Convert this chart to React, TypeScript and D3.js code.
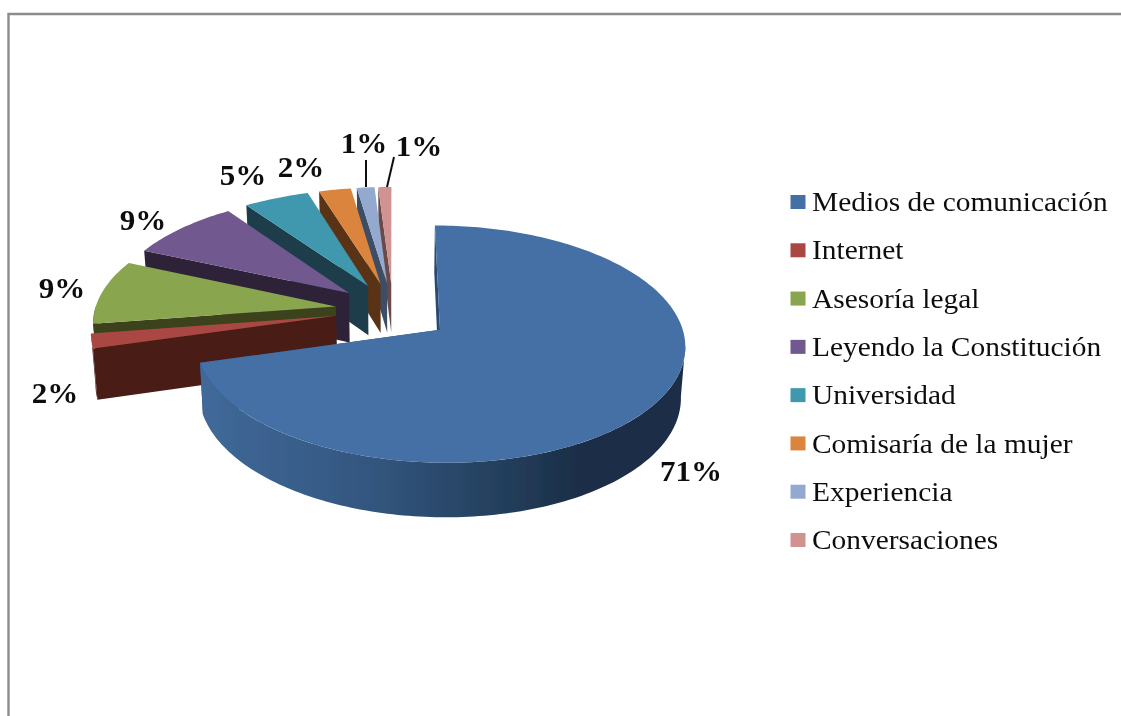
import React from "react";
import * as d3 from "d3";

const categories = ["Medios de comunicación", "Internet", "Asesoría legal", "Leyendo la Constitución", "Universidad", "Comisaría de la mujer", "Experiencia", "Conversaciones"];
const values = [70.6, 2, 9, 8.6, 5, 2.45, 1.35, 1];
const topColors = ["#4470a6", "#aa4643", "#89a54e", "#71588f", "#4198af", "#db843d", "#93a9cf", "#d19392"];
const wallColors = ["#2a4a70", "#481c18", "#3a431f", "#2d2139", "#1a3c49", "#5a3317", "#3e4e66", "#6b4a48"];
const labelX = [691, 55, 62, 143, 243, 301, 364, 419];
const labelY = [471, 393, 288, 220, 175, 167, 143, 146];

const W = 1121, H = 716;
const cx = 393, cy = 310, R = 241, Rv = 114, persp = 0.12, explode = 0.24;
const bigShift = 3, bigScale = 0.99, textStretch = 1.07, rimStart = 1.7;

const pieGen = d3.pie<number>().sort(null).startAngle(0).endAngle(2 * Math.PI);
const arcs = pieGen(values);
const total = d3.sum(values);

function project(X: number, Y: number, lower: boolean, dy: number) {
  const s = 1 / (1 - persp * Y);
  const x = cx + R * X * s;
  const y = cy + Rv * Y * s + dy;
  if (!lower) return [x, y] as [number, number];
  return [cx + (x - cx) * 0.985, y + 50 + 4 * Y] as [number, number];
}

function slicePoint(i: number, r0: number, a: number, lower: boolean) {
  const r = i === 0 ? r0 * bigScale : r0;
  const mid = (arcs[i].startAngle + arcs[i].endAngle) / 2;
  const X = explode * Math.sin(mid) + r * Math.sin(a);
  const Y = -explode * Math.cos(mid) - r * Math.cos(a);
  return project(X, Y, lower, i === 0 ? bigShift : 0);
}

const lineGen = d3.line<[number, number]>();

function sampleAngles(a0: number, a1: number) {
  const n = Math.max(2, Math.ceil(Math.abs(a1 - a0) / 0.02));
  return d3.range(n + 1).map((k) => a0 + ((a1 - a0) * k) / n);
}

function topPath(i: number) {
  const { startAngle, endAngle } = arcs[i];
  const rim = sampleAngles(startAngle, endAngle).map((a) => slicePoint(i, 1, a, false));
  return lineGen([slicePoint(i, 0, 0, false), ...rim])! + "Z";
}

function radialWall(i: number, a: number) {
  return lineGen([slicePoint(i, 0, 0, false), slicePoint(i, 1, a, false), slicePoint(i, 1, a, true), slicePoint(i, 0, 0, true)])! + "Z";
}

function rimWall(i: number) {
  const a0 = Math.max(arcs[i].startAngle, rimStart);
  const a1 = Math.min(arcs[i].endAngle, (3 * Math.PI) / 2);
  if (a1 <= a0) return null;
  const as = sampleAngles(a0, a1);
  const up = as.map((a) => slicePoint(i, 1, a, false));
  const low = as.map((a) => slicePoint(i, 1, a, true)).reverse();
  return lineGen([...up, ...low])! + "Z";
}

const legendY = d3.scalePoint<string>().domain(categories).range([202, 540]);
const order = d3.range(values.length).slice(1).reverse().concat([0]);

const leaders = [6, 7];
const leaderEnds = [[366, 160, 366, 187], [394, 157, 387, 187]];

export default function App() {
  const serif = "'Liberation Serif', 'Times New Roman', serif";
  return (
    <svg width={W} height={H} viewBox={`0 0 ${W} ${H}`} style={{ position: "fixed", left: 0, top: 0, display: "block", background: "#fff" }}>
      <defs>
        <linearGradient id="bigWall" gradientUnits="userSpaceOnUse" x1={200} x2={686} y1={0} y2={0}>
          <stop offset="0" stopColor="#41699a" />
          <stop offset="0.35" stopColor="#33567f" />
          <stop offset="0.6" stopColor="#25415f" />
          <stop offset="0.78" stopColor="#1b2e47" />
          <stop offset="1" stopColor="#1b2e47" />
        </linearGradient>
        <filter id="soft" x="-5%" y="-5%" width="110%" height="110%">
          <feGaussianBlur stdDeviation="0.5" />
        </filter>
      </defs>
      <g filter="url(#soft)">
        <path d={`M8.5 716V14H${W}`} fill="none" stroke="#8c8c8c" strokeWidth={2.4} />
        {order.map((i) => {
          const rim = rimWall(i);
          const fill = i === 0 ? "url(#bigWall)" : wallColors[i];
          return (
            <g key={categories[i]}>
              {i === 0 ? <path d={radialWall(0, arcs[0].endAngle)} fill={wallColors[0]} /> : null}
              <path d={radialWall(i, arcs[i].startAngle)} fill={wallColors[i]} />
              {rim ? <path d={rim} fill={fill} /> : null}
              <path d={topPath(i)} fill={topColors[i]} />
            </g>
          );
        })}
        {leaderEnds.map((l, k) => (
          <line key={leaders[k]} x1={l[0]} y1={l[1]} x2={l[2]} y2={l[3]} stroke="#111" strokeWidth={2} />
        ))}
        {values.map((v, i) => (
          <text key={categories[i]} transform={`translate(${labelX[i]},${labelY[i]}) scale(${textStretch},1)`} dy="0.35em" textAnchor="middle" fontFamily={serif} fontWeight="bold" fontSize={29} fill="#111">
            {Math.round((v / total) * 100)}%
          </text>
        ))}
        {categories.map((c, i) => (
          <g key={c}>
            <rect x={790.5} y={legendY(c)! - 7} width={15} height={14} fill={topColors[i]} />
            <text transform={`translate(812,${legendY(c)!}) scale(${textStretch},1)`} dy="0.33em" fontFamily={serif} fontSize={27.5} fill="#111">
              {c}
            </text>
          </g>
        ))}
      </g>
    </svg>
  );
}
